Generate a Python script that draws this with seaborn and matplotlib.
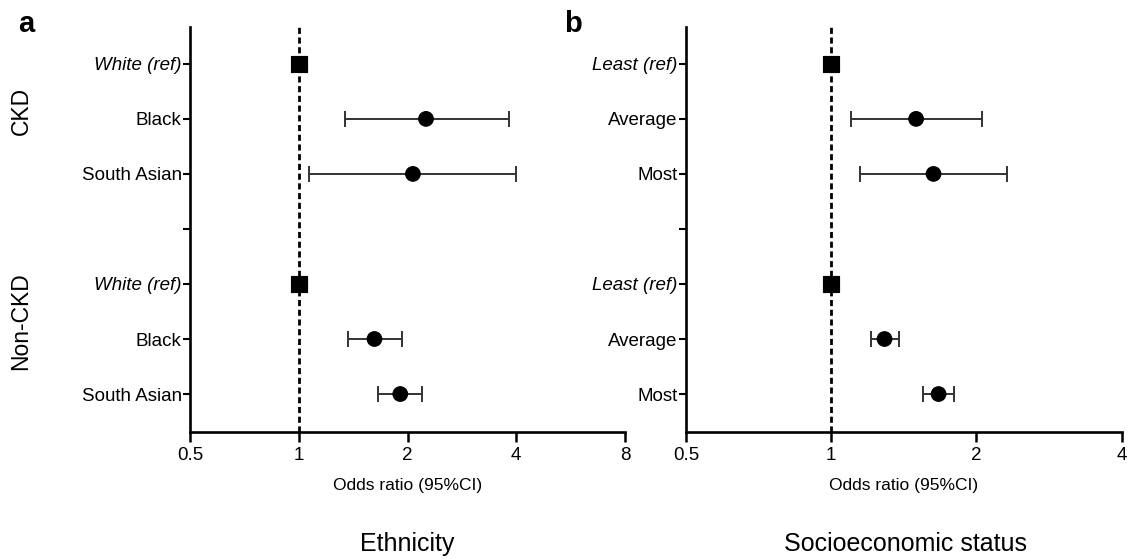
import matplotlib
matplotlib.use("Agg")
import matplotlib.pyplot as plt
import seaborn as sns
import pandas as pd
from matplotlib.ticker import FixedLocator, FixedFormatter, NullLocator

# rows top -> bottom, the empty one is the gap between CKD and non-CKD
eth_labels = ["White (ref)", "Black", "South Asian", "", "White (ref)", "Black", "South Asian"]
ses_labels = ["Least (ref)", "Average", "Most", "", "Least (ref)", "Average", "Most"]

# odds ratios with 95% CI (CKD rows, then non-CKD rows)
eth_or = [1.0, 2.25, 2.07, 1.0, 1.62, 1.91]
eth_lo = [1.0, 1.34, 1.07, 1.0, 1.37, 1.66]
eth_hi = [1.0, 3.81, 4.00, 1.0, 1.93, 2.20]

ses_or = [1.0, 1.50, 1.63, 1.0, 1.29, 1.67]
ses_lo = [1.0, 1.10, 1.15, 1.0, 1.21, 1.55]
ses_hi = [1.0, 2.05, 2.32, 1.0, 1.38, 1.80]

is_ref = [True, False, False, True, False, False]
row_pos = [0, 1, 2, 4, 5, 6]

eth_ticks = [0.5, 1, 2, 4, 8]
ses_ticks = [0.5, 1, 2, 4]

sns.set_style("ticks", {"axes.edgecolor": "black", "text.color": "black",
                        "xtick.color": "black", "ytick.color": "black",
                        "axes.labelcolor": "black"})
plt.rcParams["font.family"] = ["Liberation Sans", "DejaVu Sans"]


def forest(ax, labels, odds, lo, hi, ticks):
    df = pd.DataFrame({"pos": row_pos, "or": odds, "lo": lo, "hi": hi, "ref": is_ref})
    ax.set_xscale("log", base=2)

    # dashed line of no effect
    ax.axvline(1, color="black", lw=2, ls=(0, (2.2, 1.3)), zorder=1)

    est = df[~df["ref"]]
    ax.errorbar(est["or"], est["pos"],
                xerr=[est["or"] - est["lo"], est["hi"] - est["or"]],
                fmt="none", ecolor="#333333", elinewidth=1.4, capsize=5.5,
                capthick=1.4, zorder=2)

    sns.scatterplot(data=df, x="or", y="pos", style="ref", size="ref",
                    markers={True: "s", False: "o"}, sizes={True: 140, False: 110},
                    color="black", edgecolor="black", legend=False, zorder=3, ax=ax)

    ax.set_xlim(ticks[0], ticks[-1])
    ax.set_ylim(6.69, -0.67)
    ax.xaxis.set_major_locator(FixedLocator(ticks))
    ax.xaxis.set_major_formatter(FixedFormatter([f"{t:g}" for t in ticks]))
    ax.xaxis.set_minor_locator(NullLocator())
    ax.set_yticks(range(len(labels)))
    ax.set_yticklabels(labels)
    for lab, txt in zip(ax.get_yticklabels(), labels):
        if "(ref)" in txt:
            lab.set_fontstyle("italic")

    ax.set_xlabel("Odds ratio (95%CI)", fontsize=12.5, labelpad=10)
    ax.set_ylabel("")
    ax.tick_params(axis="x", labelsize=13.5, length=7, width=1.8, pad=4)
    ax.tick_params(axis="y", labelsize=13.5, length=5, width=1.5, pad=1)
    sns.despine(ax=ax)
    for side in ["left", "bottom"]:
        ax.spines[side].set_linewidth(1.9)


fig = plt.figure(figsize=(11.29, 5.59), dpi=100)
ax_a = fig.add_axes([0.1683, 0.2272, 0.3853, 0.7245])
ax_b = fig.add_axes([0.6076, 0.2272, 0.3858, 0.7245])

forest(ax_a, eth_labels, eth_or, eth_lo, eth_hi, eth_ticks)
forest(ax_b, ses_labels, ses_or, ses_lo, ses_hi, ses_ticks)

fig.text(0.016, 1 - 24 / 559, "a", fontsize=21, fontweight="bold", va="center")
fig.text(0.500, 1 - 24 / 559, "b", fontsize=21, fontweight="bold", va="center")

fig.text(21 / 1129, 1 - 111 / 559, "CKD", fontsize=16.5, rotation=90, ha="center", va="center")
fig.text(21 / 1129, 1 - 321 / 559, "Non-CKD", fontsize=16.5, rotation=90, ha="center", va="center")

fig.text(407 / 1129, 1 - 544 / 559, "Ethnicity", fontsize=18, ha="center", va="center")
fig.text(905 / 1129, 1 - 544 / 559, "Socioeconomic status", fontsize=18, ha="center", va="center")

fig.savefig("out.png", dpi=100)
